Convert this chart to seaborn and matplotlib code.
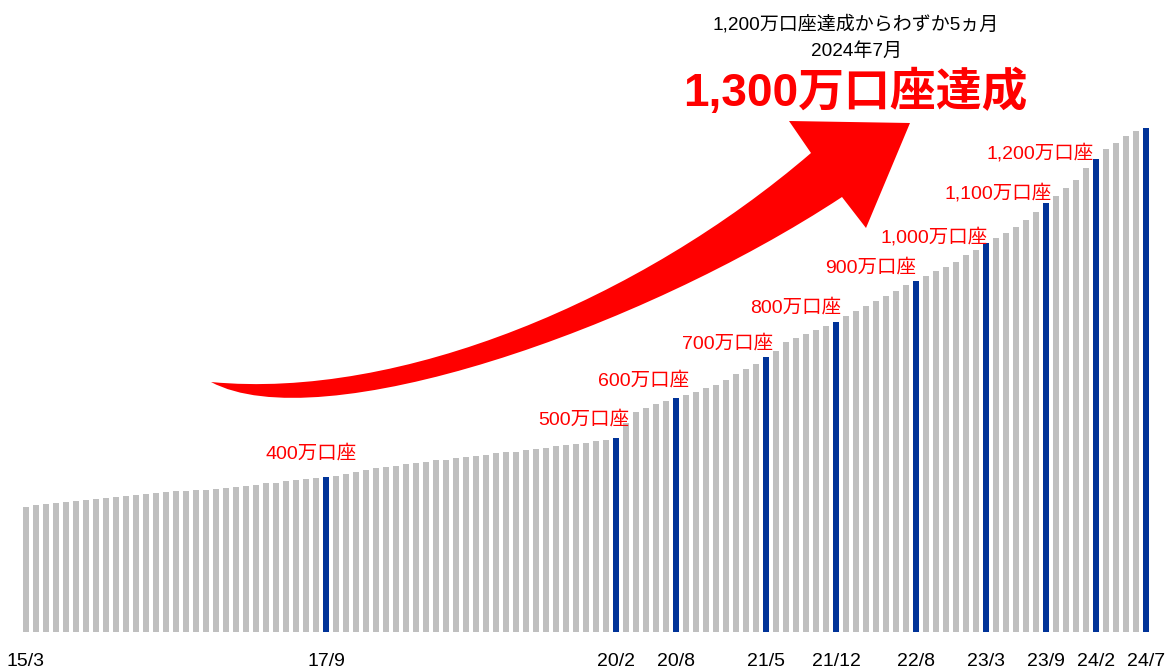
import numpy as np
import pandas as pd
import seaborn as sns
import matplotlib.pyplot as plt
from matplotlib.path import Path
from matplotlib.patches import PathPatch

# 口座数（万口座）2015/3 〜 2024/7 月次
accounts = [
    324, 327, 330, 333, 336, 339, 341, 343, 346, 348, 351, 354, 356, 359, 361, 364,
    365, 367, 367, 369, 371, 375, 378, 381, 384, 386, 390, 392, 396, 397, 401,
    404, 409, 413, 419, 423, 427, 429, 433, 437, 439, 444, 445, 449, 452, 456,
    458, 462, 464, 466, 470, 472, 476, 480, 482, 486, 488, 493, 496, 501,
    541, 568, 578, 589, 597, 605, 613, 621, 630, 637, 652, 667, 680, 693, 710,
    726, 750, 759, 770, 780, 790, 801, 816, 829, 843, 855, 869, 881,
    896, 908, 920, 933, 943, 955, 974, 987, 1006, 1018, 1032, 1047, 1064, 1084,
    1108, 1127, 1148, 1169, 1199, 1222, 1248, 1264, 1282, 1295, 1302,
]
months = [f"{d.year % 100}/{d.month}" for d in pd.date_range("2015-03-01", "2024-07-01", freq="MS")]

milestone_months = ["17/9", "20/2", "20/8", "21/5", "21/12", "22/8", "23/3", "23/9", "24/2", "24/7"]
milestone_labels = ["400万口座", "500万口座", "600万口座", "700万口座", "800万口座",
                    "900万口座", "1,000万口座", "1,100万口座", "1,200万口座"]
tick_months = ["15/3"] + milestone_months

title_big = "1,300万口座達成"
subtitle = "1,200万口座達成からわずか5ヵ月\n2024年7月"

df = pd.DataFrame({"月": months, "口座数": accounts})
df["種別"] = np.where(df["月"].isin(milestone_months), "達成", "通常")

sns.set_theme(style="white")
plt.rcParams["font.family"] = ["Liberation Sans", "Noto Sans CJK JP"]

W, H = 1169, 671
fig = plt.figure(figsize=(W / 100, H / 100), dpi=100)
ax = fig.add_axes([21 / W, (H - 632) / H, 1130 / W, 622 / H])

sns.barplot(data=df, x="月", y="口座数", hue="種別", order=months,
            palette={"通常": "#BFBFBF", "達成": "#003399"}, saturation=1,
            dodge=False, width=0.52, linewidth=0, legend=False, ax=ax, zorder=3)

ax.set_xlim(-0.5, len(months) - 0.5)
ax.set_ylim(0, 1607)
for s in ax.spines.values():
    s.set_visible(False)
ax.set_yticks([])
ax.set_xlabel("")
ax.set_ylabel("")
ax.set_xticks([months.index(m) for m in tick_months])
ax.set_xticklabels(tick_months)
ax.tick_params(axis="x", length=0, pad=15, labelsize=14, labelcolor="#000000")
ax.patch.set_alpha(0)

# 達成ラベル（棒の上からのずれ, pixel）
label_offsets = [(-15, 23), (-32, 18), (-32, 17), (-38, 14), (-40, 14),
                 (-45, 13), (-52, 6), (-48, 10), (-56, 6)]
for m, lab, off in zip(milestone_months, milestone_labels, label_offsets):
    i = months.index(m)
    ax.annotate(lab, xy=(i, accounts[i]), xytext=off, textcoords="offset pixels",
                ha="center", va="center", color="#FF0000", fontsize=14)


def px(x, y):
    return (x / W, 1 - y / H)


# 赤い矢印
verts = [px(211, 382), px(400, 400), px(640, 300), px(811, 153),
         px(789, 121), px(910, 123), px(866, 228), px(842, 197),
         px(640, 330), px(320, 440), px(211, 382), px(211, 382)]
codes = [Path.MOVETO, Path.CURVE4, Path.CURVE4, Path.CURVE4,
         Path.LINETO, Path.LINETO, Path.LINETO, Path.LINETO,
         Path.CURVE4, Path.CURVE4, Path.CURVE4, Path.CLOSEPOLY]
arrow = PathPatch(Path(verts, codes), facecolor="#FF0000", edgecolor="none",
                  transform=fig.transFigure, zorder=1)
fig.add_artist(arrow)

fig.text(*px(856, 37), subtitle, ha="center", va="center", fontsize=13.7,
         color="#000000", linespacing=1.6)
fig.text(*px(855, 93), title_big, ha="center", va="center", fontsize=33,
         fontweight="bold", color="#FF0000")

fig.savefig("out.png", dpi=100)
